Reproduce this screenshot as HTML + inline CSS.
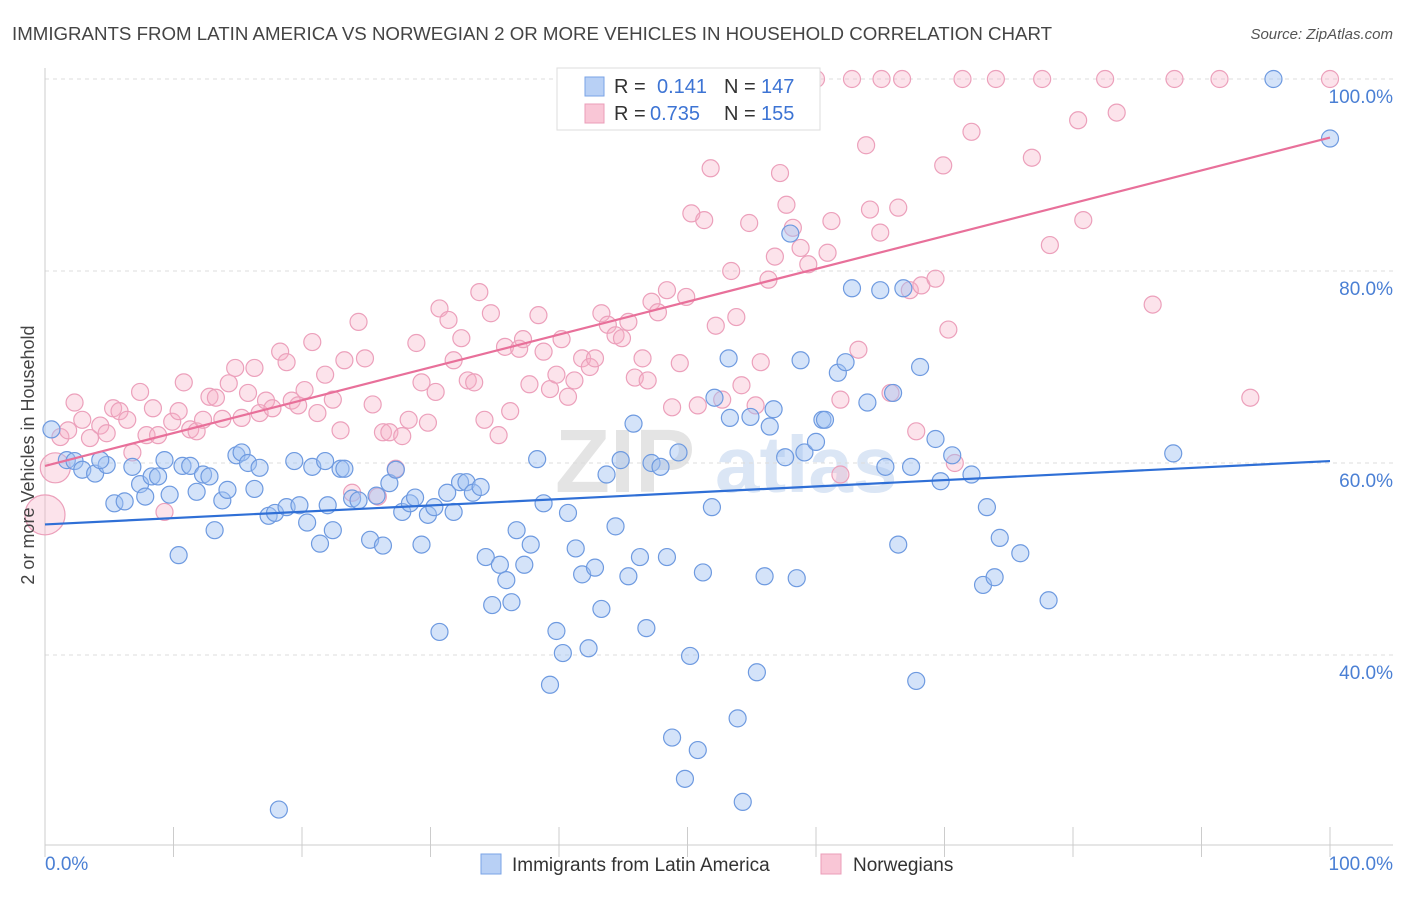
<!DOCTYPE html>
<html><head><meta charset="utf-8">
<style>
body{margin:0;background:#fff;font-family:"Liberation Sans",sans-serif;}
svg text{font-family:"Liberation Sans",sans-serif;}
</style></head>
<body>
<svg id="chart" width="1406" height="892" viewBox="0 0 1406 892" xmlns="http://www.w3.org/2000/svg">
<text x="12" y="40" font-size="18.7" fill="#444">IMMIGRANTS FROM LATIN AMERICA VS NORWEGIAN 2 OR MORE VEHICLES IN HOUSEHOLD CORRELATION CHART</text>
<text x="1393" y="39" font-size="15" fill="#555" font-style="italic" text-anchor="end">Source: ZipAtlas.com</text>
<text x="555" y="492" font-size="90" fill="#e4e4e4" font-family="Liberation Serif" font-weight="bold">ZIP</text>
<text x="715" y="492" font-size="80" fill="#dbe6f5" font-weight="bold">atlas</text>
<g id="grid"></g>
<g id="axes"></g>
<g id="pinkPts"></g>
<g id="bluePts"></g>
<g id="lines"></g>
<text transform="translate(34,455) rotate(-90)" font-size="18" fill="#444" text-anchor="middle">2 or more Vehicles in Household</text>
<text x="45" y="870" font-size="19" fill="#4a7fd4">0.0%</text>
<text x="1393" y="870" font-size="19" fill="#4a7fd4" text-anchor="end">100.0%</text>
<g>
<rect x="557" y="68" width="263" height="62" fill="#fff" stroke="#ddd"/>
<rect x="585" y="77" width="19" height="19" fill="#b8d0f5" stroke="#7aa3e6"/>
<rect x="585" y="104" width="19" height="19" fill="#f9c6d6" stroke="#eb9db8"/>
<text x="614" y="93" font-size="20" fill="#333">R =</text>
<text x="657" y="93" font-size="20" fill="#3d74d4">0.141</text>
<text x="724" y="93" font-size="20" fill="#333">N =</text>
<text x="761" y="93" font-size="20" fill="#3d74d4">147</text>
<text x="614" y="120" font-size="20" fill="#333">R =</text>
<text x="650" y="120" font-size="20" fill="#3d74d4">0.735</text>
<text x="724" y="120" font-size="20" fill="#333">N =</text>
<text x="761" y="120" font-size="20" fill="#3d74d4">155</text>
</g>
<g>
<rect x="481" y="854" width="20" height="20" fill="#b8d0f5" stroke="#7aa3e6"/>
<text x="512" y="871" font-size="19" fill="#333">Immigrants from Latin America</text>
<rect x="821" y="854" width="20" height="20" fill="#f9c6d6" stroke="#eb9db8"/>
<text x="853" y="871" font-size="19" fill="#333">Norwegians</text>
</g>
</svg>
<script>
const yTicks=[40,60,80,100];
const yTickLabels=["40.0%","60.0%","80.0%","100.0%"];
const xTicks=[0,10,20,30,40,50,60,70,80,90,100];
const blueX=[0.5,1.7,2.3,2.9,3.9,4.8,4.3,5.4,6.2,6.8,7.4,7.8,8.3,8.8,9.3,9.7,10.4,10.7,11.3,11.8,12.3,12.8,13.2,13.8,14.2,14.9,15.3,15.8,16.3,16.7,17.4,17.9,18.2,18.8,19.4,19.8,20.4,20.8,21.4,21.8,22.0,22.4,23.0,23.3,23.9,24.4,25.3,25.8,26.3,26.8,27.3,27.8,28.4,28.8,29.3,29.8,30.3,30.7,31.3,31.8,32.3,32.8,33.3,33.9,34.3,34.8,35.4,35.9,36.3,36.7,37.3,37.8,38.3,38.8,39.3,39.8,40.3,40.7,41.3,41.8,42.3,42.8,43.3,43.7,44.4,44.8,45.4,45.8,46.3,46.8,47.2,47.9,48.4,48.8,49.3,49.8,50.2,50.8,51.2,51.9,52.1,53.2,53.3,53.9,54.3,54.9,55.4,56.0,56.4,56.7,57.6,58.0,58.5,58.8,59.1,60.0,60.5,60.7,61.7,62.3,62.8,64.0,65.0,65.4,66.0,66.4,66.8,67.4,67.8,68.1,69.3,69.7,70.6,72.1,73.0,73.3,73.9,74.3,75.9,78.1,87.8,95.6,100];
const blueY=[63.5,60.3,60.2,59.3,58.9,59.8,60.3,55.8,56.0,59.6,57.8,56.5,58.6,58.6,60.3,56.7,50.4,59.7,59.7,57.0,58.8,58.6,53.0,56.1,57.2,60.8,61.1,60.0,57.3,59.5,54.5,54.8,23.9,55.4,60.2,55.6,53.8,59.6,51.6,60.2,55.6,53.0,59.4,59.4,56.3,56.1,52.0,56.6,51.4,57.9,59.3,54.9,55.8,56.4,51.5,54.6,55.4,42.4,56.9,54.9,58.0,58.0,56.9,57.5,50.2,45.2,49.4,47.8,45.5,53.0,49.4,51.5,60.4,55.8,36.9,42.5,40.2,54.8,51.1,48.4,40.7,49.1,44.8,58.8,53.4,60.3,48.2,64.1,50.2,42.8,60.0,59.6,50.2,31.4,61.1,27.1,39.9,30.1,48.6,55.4,66.8,70.9,64.7,33.4,24.7,64.8,38.2,48.2,63.8,65.6,60.6,83.9,48.0,70.7,61.1,62.2,64.5,64.5,69.4,70.5,78.2,66.3,78.0,59.6,67.3,51.5,78.2,59.6,37.3,70.0,62.5,58.1,60.8,58.8,47.3,55.4,48.1,52.2,50.6,45.7,61.0,100,93.8];
const pinkX=[0,0.8,1.2,1.8,2.3,2.9,3.5,4.3,4.8,5.3,5.8,6.4,6.8,7.4,7.9,8.4,8.8,9.3,9.9,10.4,10.8,11.3,11.8,12.3,12.8,13.3,13.8,14.3,14.8,15.3,15.8,16.3,16.7,17.2,17.7,18.3,18.8,19.2,19.7,20.2,20.8,21.2,21.8,22.4,23.0,23.3,23.9,24.4,24.9,25.5,25.9,26.3,26.8,27.3,27.8,28.3,28.9,29.3,29.8,30.4,30.7,31.4,31.8,32.4,32.9,33.4,33.8,34.2,34.7,35.3,35.8,36.2,36.9,37.2,37.7,38.4,38.8,39.3,39.8,40.2,40.7,41.2,41.8,42.4,42.8,43.3,43.8,44.4,44.9,45.4,45.9,46.5,46.9,47.2,47.7,48.4,48.8,49.4,49.9,50.3,50.8,51.3,51.8,52.2,52.7,53.4,53.8,54.2,54.8,55.3,55.7,56.3,56.8,57.2,57.7,58.2,58.8,59.4,60.0,60.9,61.2,61.9,61.9,62.8,63.3,63.9,64.2,65.0,65.1,65.8,66.4,66.7,67.3,67.8,68.2,69.3,69.9,70.3,70.8,71.4,72.1,74.0,76.8,77.6,78.2,80.4,80.8,82.5,83.4,86.2,87.9,91.4,93.8,100];
const pinkY=[54.6,59.5,62.7,63.4,66.3,64.5,62.6,63.9,63.1,65.7,65.4,64.5,61.1,67.4,62.9,65.7,62.9,54.9,64.3,65.4,68.4,63.5,63.3,64.5,66.9,66.8,64.6,68.3,69.9,64.7,67.3,69.9,65.2,66.5,65.7,71.6,70.5,66.5,66.0,67.6,72.6,65.2,69.2,66.6,63.4,70.7,56.9,74.7,70.9,66.1,56.5,63.2,63.2,59.4,62.8,64.5,72.5,68.4,64.2,67.4,76.1,74.9,70.7,73.0,68.6,68.4,77.8,64.5,75.6,62.9,72.1,65.4,71.9,72.9,68.2,75.4,71.6,67.7,69.2,72.9,66.9,68.6,70.9,70.0,70.9,75.6,74.4,73.3,73.0,74.7,68.9,70.9,68.6,76.8,75.7,78.0,65.8,70.4,77.3,86.0,66.0,85.3,90.7,74.3,66.6,80.0,75.2,68.1,85.0,66.0,70.5,79.1,81.5,90.2,86.9,84.5,82.4,80.7,100,81.9,85.2,66.6,58.8,100,71.8,93.1,86.4,84.0,100,67.3,86.6,100,78.0,63.3,78.5,79.2,91.0,73.9,60.0,100,94.5,100,91.8,100,82.7,95.7,85.3,100,96.5,76.5,100,100,66.8,100];
const pinkSizes=[20,15];
const blueLine=[53.6,60.2];
const pinkLine=[59.7,93.9];
const NS="http://www.w3.org/2000/svg";
function sx(v){return 45+v*12.85;}
function sy(v){return 1039-v*9.6;}
function mk(tag,attrs,parent){const e=document.createElementNS(NS,tag);for(const k in attrs)e.setAttribute(k,attrs[k]);parent.appendChild(e);return e;}
const grid=document.getElementById('grid'),axes=document.getElementById('axes');
yTicks.forEach((t,i)=>{
 const l=mk('line',{x1:45,x2:1393,y1:sy(t),y2:sy(t),stroke:'#dcdcdc','stroke-dasharray':'4,4'},grid);
 
 
 const tx=mk('text',{x:1393,y:sy(t)+24,'font-size':19,fill:'#4a7fd4','text-anchor':'end'},grid);
 tx.textContent=yTickLabels[i];
 
 
});
let a=mk('line',{x1:45,x2:45,y1:68,y2:845,stroke:'#ccc'},axes);


a=mk('line',{x1:45,x2:1393,y1:845,y2:845,stroke:'#ccc'},axes);


xTicks.forEach(t=>{
 const l=mk('line',{x1:sx(t),x2:sx(t),y1:827,y2:857,stroke:'#ccc'},axes);
 
 
});
const pg=document.getElementById('pinkPts');
pinkX.forEach((x,i)=>{
 const c=mk('circle',{cx:sx(x),cy:sy(pinkY[i]),r:i<pinkSizes.length?pinkSizes[i]:8.5,fill:'rgba(246,175,198,0.35)',stroke:'#eca0bb','stroke-width':1.2},pg);
 
 
});
const bg=document.getElementById('bluePts');
blueX.forEach((x,i)=>{
 const c=mk('circle',{cx:sx(x),cy:sy(blueY[i]),r:8.5,fill:'rgba(160,192,242,0.45)',stroke:'#6e9ae0','stroke-width':1.2},bg);
 
 
});
const lg=document.getElementById('lines');
let ln=mk('line',{x1:sx(0),y1:sy(blueLine[0]),x2:sx(100),y2:sy(blueLine[1]),stroke:'#2f6fd6','stroke-width':2.2},lg);


ln=mk('line',{x1:sx(0),y1:sy(pinkLine[0]),x2:sx(100),y2:sy(pinkLine[1]),stroke:'#e8709a','stroke-width':2.2},lg);


</script>
</body></html>
